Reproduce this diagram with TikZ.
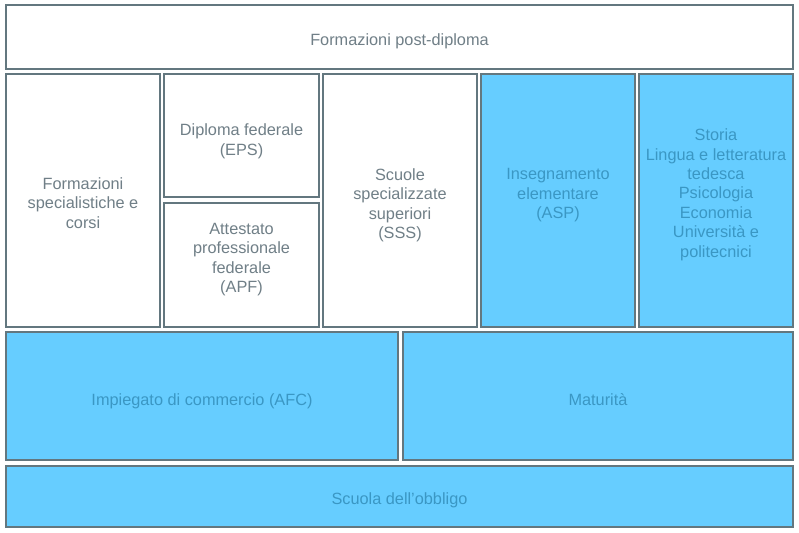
\documentclass[tikz,border=0pt]{standalone}
\usepackage{fontspec}
\setmainfont{Liberation Sans}
\definecolor{bordergray}{HTML}{63777F}
\definecolor{textgray}{HTML}{707F87}
\definecolor{fillblue}{HTML}{66CDFF}
\definecolor{textblue}{HTML}{3A97C4}
\tikzset{
  box/.style={draw=bordergray, line width=1.8pt, rectangle, inner sep=0pt, align=center,
    font=\fontsize{16.3}{19.4}\selectfont, text depth=0pt},
  whitebox/.style={box, fill=white, text=textgray},
  bluebox/.style={box, fill=fillblue, text=textblue},
}
% style, name, x1, y1, x2, y2, text yshift (px, positive = down)
\newcommand{\mkbox}[7]{%
  \node[#1, minimum width={#5-#3}, minimum height={#6-#4}] (#2) at ({(#3+#5)/2},{(#4+#6)/2}) {};
  \node[#1, draw=none, fill=none] (#2-text) at ($(#2.center)+(0,#7)$)}
\usetikzlibrary{calc}
\begin{document}
\begin{tikzpicture}[x=1pt,y=-1pt]
\useasboundingbox (0,0) rectangle (799,532);
\fill[white] (0,0) rectangle (799,532);
\mkbox{whitebox}{post}{6}{5}{793}{69}{3} {Formazioni post-diploma};
\mkbox{whitebox}{spec}{6}{74}{160}{327}{2.5} {Formazioni\\specialistiche e\\corsi};
\mkbox{whitebox}{eps}{164}{74}{319}{197}{4} {Diploma federale\\(EPS)};
\mkbox{whitebox}{apf}{164}{203}{319}{327}{-7} {Attestato\\professionale\\federale\\(APF)};
\mkbox{whitebox}{sss}{323}{74}{477}{327}{3} {Scuole\\specializzate\\superiori\\(SSS)};
\mkbox{bluebox}{asp}{481}{74}{635}{327}{-7} {Insegnamento\\elementare\\(ASP)};
\mkbox{bluebox}{uni}{639}{74}{793}{327}{-7.5} {Storia\\Lingua e letteratura\\tedesca\\Psicologia\\Economia\\Università e\\politecnici};
\mkbox{bluebox}{afc}{6}{332}{398}{460}{4} {Impiegato di commercio (AFC)};
\mkbox{bluebox}{mat}{403}{332}{793}{460}{3} {Maturità};
\mkbox{bluebox}{obb}{6}{466}{793}{527}{2.5} {Scuola dell’obbligo};
\end{tikzpicture}
\end{document}
